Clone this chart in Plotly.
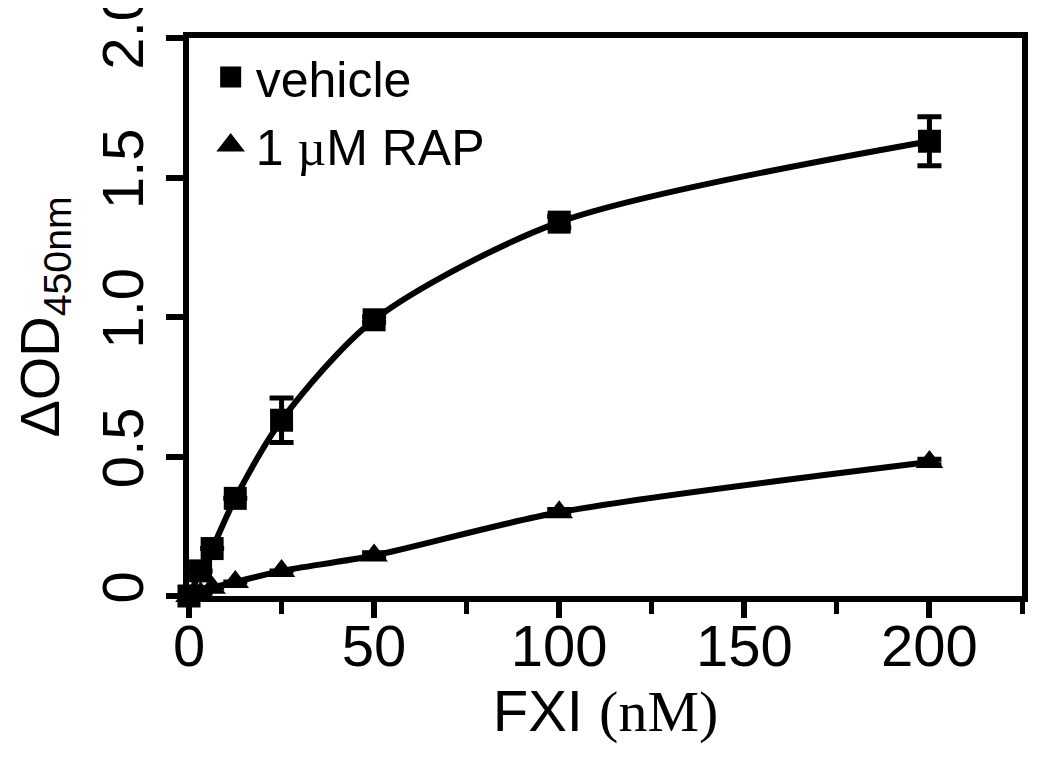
import plotly.graph_objects as go

# FXI concentration (nM)
fxi = [0, 3.125, 6.25, 12.5, 25, 50, 100, 200]

# delta OD450 readings
vehicle = [0.0, 0.09, 0.17, 0.35, 0.63, 0.99, 1.34, 1.63]
vehicle_err = [0, 0, 0, 0, 0.08, 0.01, 0.02, 0.088]
rap = [0.0, 0.01, 0.03, 0.05, 0.09, 0.145, 0.30, 0.48]
rap_err = [0, 0, 0, 0, 0, 0.01, 0.01, 0.01]

y_ticks = [0, 0.5, 1.0, 1.5, 2.0]
y_ticktext = ['0', '0.5', '1.0', '1.5', '2.0']
x_ticks = [0, 50, 100, 150, 200]

SERIF = "Liberation Serif"
SANS = "Liberation Sans, Arial, sans-serif"

fig = go.Figure()

# data curves (legend handled by marker-only entries below)
fig.add_scatter(x=fxi, y=vehicle, mode='lines+markers', showlegend=False,
                line=dict(color='black', width=6, shape='spline', smoothing=0.8),
                marker=dict(symbol='square', size=23, color='black'),
                error_y=dict(type='data', array=vehicle_err, color='black', thickness=5, width=12),
                cliponaxis=False)
fig.add_scatter(x=fxi, y=rap, mode='lines+markers', showlegend=False,
                line=dict(color='black', width=6, shape='spline', smoothing=0.8),
                marker=dict(symbol='triangle-up', size=24, color='black'),
                error_y=dict(type='data', array=rap_err, color='black', thickness=5, width=12),
                cliponaxis=False)

# legend entries
fig.add_scatter(x=[None], y=[None], mode='markers', name='vehicle',
                marker=dict(symbol='square', size=16, color='black',
                            line=dict(color='black', width=5)))
fig.add_scatter(x=[None], y=[None], mode='markers',
                name=f"1 <span style='font-family:{SERIF}'>µ</span>M RAP",
                marker=dict(symbol='triangle-up', size=16, color='black',
                            line=dict(color='black', width=5)))

# page body adds an 8px offset, margins account for it
fig.update_layout(
    width=1050, height=760,
    margin=dict(l=181, r=36, t=30, b=172),
    paper_bgcolor='white', plot_bgcolor='white',
    font=dict(family=SANS, color='black', size=58),
    showlegend=True,
    legend=dict(x=0.02, y=1.0, xanchor='left', yanchor='top',
                font=dict(size=50), bgcolor='rgba(0,0,0,0)',
                itemwidth=40, tracegroupgap=0),
)

fig.update_xaxes(
    range=[0, 225], tickvals=x_ticks, ticks='outside', ticklen=16, tickwidth=6,
    tickcolor='black', showline=True, linewidth=6, linecolor='black', mirror=True,
    showgrid=False, zeroline=False, tickfont=dict(size=58), automargin=False,
    ticklabelstandoff=-22,
    minor=dict(dtick=25, tick0=0, ticks='outside', ticklen=12, tickwidth=5, tickcolor='black', showgrid=False),
    title=dict(text=f"FXI <span style='font-family:{SERIF}'>(nM)</span>", font=dict(size=58), standoff=0),
)
fig.update_yaxes(
    range=[0, 2.0], tickvals=y_ticks, ticktext=y_ticktext, tickangle=-90,
    ticks='outside', ticklen=17, tickwidth=6, tickcolor='black',
    showline=True, linewidth=6, linecolor='black', mirror=True,
    showgrid=False, zeroline=False, tickfont=dict(size=58), automargin=False,
    ticklabeloverflow='allow',
    title=dict(text="ΔOD<sub>450nm</sub>", font=dict(size=56), standoff=48),
)

fig.write_html("out.html")
